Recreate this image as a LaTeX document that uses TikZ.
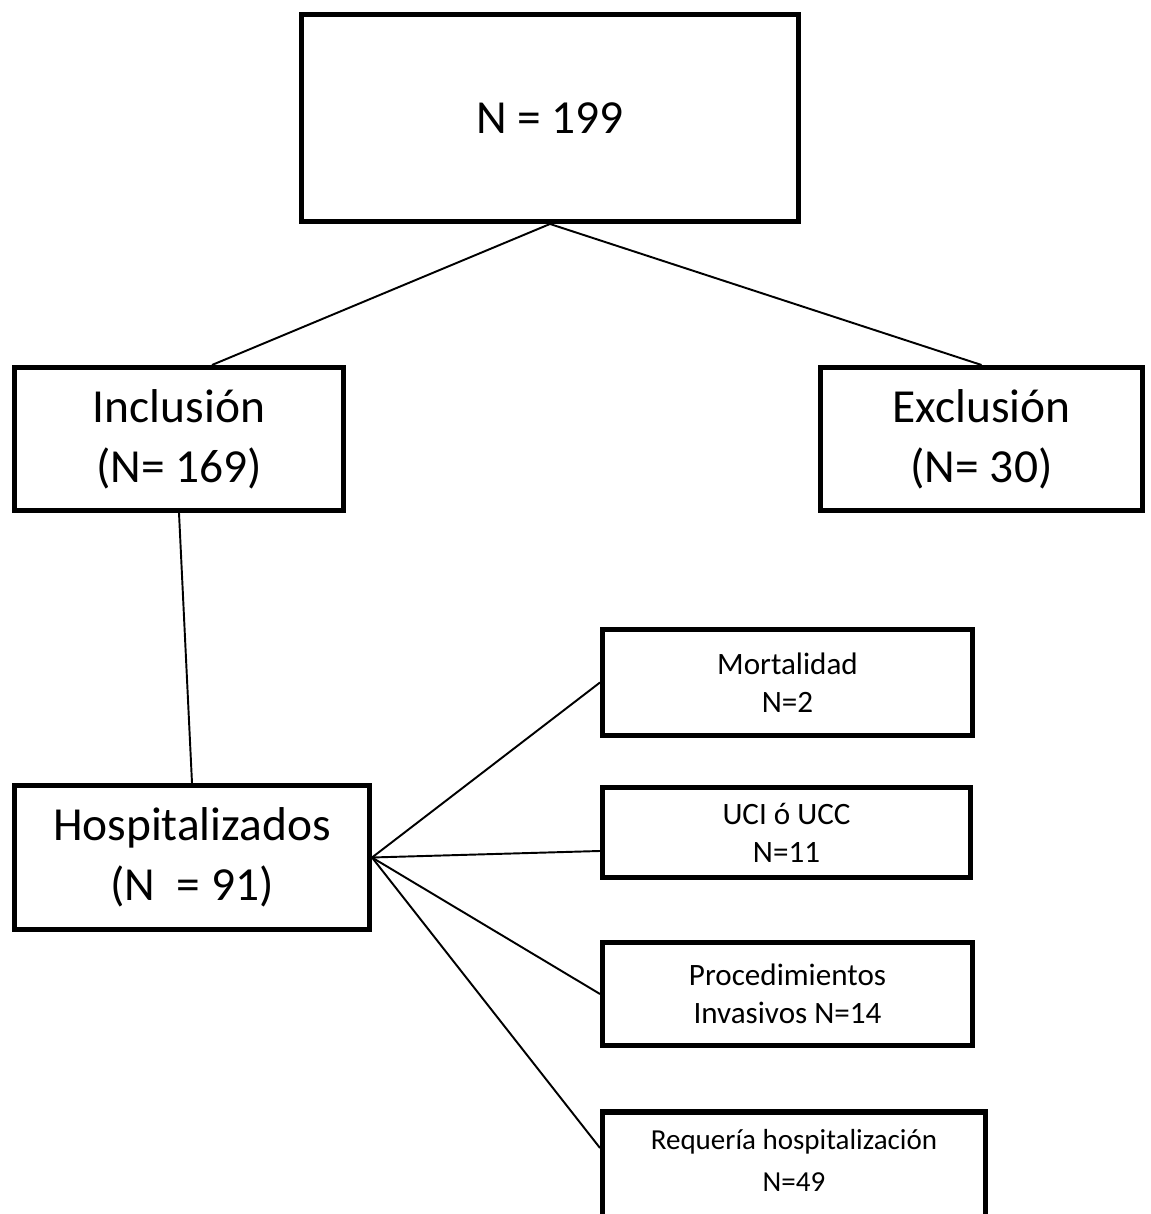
\documentclass[tikz,border=0pt]{standalone}
\usepackage{fontspec}
\setmainfont{Carlito}
\usepackage{tikz}
\usetikzlibrary{calc}

\begin{document}
\begin{tikzpicture}[x=1.0cm,y=1.0cm,
  bigbox/.style={draw=black, line width=2.85pt, rectangle, align=center,
    inner sep=0pt, font=\fontsize{27}{34.1}\selectfont},
  smallbox/.style={draw=black, line width=2.85pt, rectangle, align=center,
    inner sep=0pt, minimum width=7.4cm, font=\fontsize{17.7}{21.6}\selectfont},
  link/.style={draw=black, line width=1.1pt}]

\useasboundingbox (0,0) rectangle (23,24.28);
\clip (0,0) rectangle (23,24.28);

% ------------------------------------------------------------
% Total and first split
% ------------------------------------------------------------
\node[bigbox, minimum width=9.94cm, minimum height=4.14cm] (total) at (11.00,21.92)
{N = 199};

\node[bigbox, minimum width=6.58cm, minimum height=2.86cm] (incl) at (3.58,15.50)
{Inclusión\\(N= 169)};

\node[bigbox, minimum width=6.44cm, minimum height=2.86cm] (excl) at (19.63,15.50)
{Exclusión\\(N= 30)};

% Hospitalised patients
\node[bigbox, minimum width=7.10cm, minimum height=2.88cm] (hosp) at (3.84,7.13)
{Hospitalizados\\(N\ \ = 91)};

% ------------------------------------------------------------
% Outcomes
% ------------------------------------------------------------
\node[smallbox, minimum height=2.12cm] (mort) at (15.75,10.63)
{Mortalidad\\N=2};

\node[smallbox, minimum width=7.36cm, minimum height=1.80cm] (uci) at (15.73,7.63)
{UCI ó UCC\\N=11};

\node[smallbox, minimum height=2.06cm] (proc) at (15.75,4.40)
{Procedimientos\\Invasivos N=14};

% last box runs past the lower edge
\node[smallbox, minimum width=7.66cm, minimum height=2.8cm, anchor=north] (req) at (15.88,2.09) {};
\node[align=center, anchor=north, inner sep=0pt, font=\fontsize{16.5}{23.9}\selectfont]
(reqtext) at ($(req.north)+(0,-0.40)$)
{Requería hospitalización\\N=49};

% ------------------------------------------------------------
% Connectors
% ------------------------------------------------------------
\draw[link] (total.south) -- ($(incl.north)+(0.66,0)$);
\draw[link] (total.south) -- (excl.north);
\draw[link] (incl.south) -- (hosp.north);

\draw[link] (hosp.east) -- (mort.west);
\draw[link] (hosp.east) -- ($(uci.west)+(0,-0.37)$);
\draw[link] (hosp.east) -- (proc.west);
\draw[link] (hosp.east) -- ($(req.north west)+(0,-0.77)$);

\end{tikzpicture}
\end{document}
